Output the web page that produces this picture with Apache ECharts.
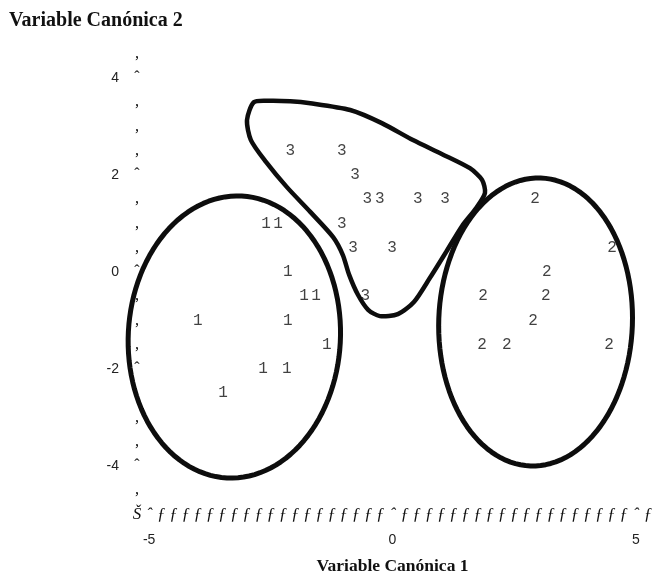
<!DOCTYPE html>
<html>
<head>
<meta charset="utf-8">
<script src="https://cdn.jsdelivr.net/npm/echarts@6/dist/echarts.min.js"></script>
<style>
  html, body { margin: 0; padding: 0; background: #fff; }
  #chart { width: 663px; height: 576px; }
</style>
</head>
<body>
<div id="chart"></div>
<script>
// Canonical scores of each observation, by group (printer-plot resolution)
const group1X = [-2.60, -2.35, -2.15, -1.82, -1.57, -4.00, -2.15, -1.35, -2.66, -2.17, -3.48];
const group1Y = [1.0, 1.0, 0.0, -0.5, -0.5, -1.0, -1.0, -1.5, -2.0, -2.0, -2.5];
const group2X = [2.93, 4.51, 3.17, 1.86, 3.15, 2.89, 1.84, 2.35, 4.45];
const group2Y = [1.5, 0.5, 0.0, -0.5, -0.5, -1.0, -1.5, -1.5, -1.5];
const group3X = [-2.10, -1.04, -0.77, -0.52, -0.26, 0.52, 1.08, -1.04, -0.81, -0.01, -0.56];
const group3Y = [2.5, 2.5, 2.0, 1.5, 1.5, 1.5, 1.5, 1.0, 0.5, 0.5, -0.5];

// Tick values
const xTickValues = [-5, 0, 5];
const yTickValues = [4, 2, 0, -2, -4];

// Hand-drawn group outlines: ellipses [cx, cy, rx, ry, tiltDeg] and a free contour
const groupEllipses = [
  [-3.25, -1.34, 2.18, 2.91, 3],
  [2.94, -1.03, 1.99, 2.97, 2]
];
const contourX = [-2.85, -2.55, -2.10, -1.69, -0.87, -0.22, 0.42, 1.02, 1.59, 1.84, 1.90, 1.72, 1.43, 1.10,
                  0.77, 0.44, 0.11, -0.26, -0.50, -0.71, -0.89, -1.02, -1.22, -1.69, -2.17, -2.60, -2.91, -2.99];
const contourY = [3.50, 3.53, 3.52, 3.48, 3.34, 3.07, 2.72, 2.43, 2.14, 1.90, 1.63, 1.32, 0.95, 0.41,
                  -0.12, -0.62, -0.87, -0.91, -0.78, -0.47, -0.06, 0.35, 0.72, 1.24, 1.75, 2.27, 2.72, 3.13];

const xMin = -5.25, xMax = 5.25, yMin = -5, yMax = 4.5;
const near = (a, b) => Math.abs(a - b) < 1e-6;

function pairs(xs, ys) { return xs.map((x, i) => [x, ys[i]]); }

function digitSeries(name, xs, ys) {
  return {
    type: 'scatter',
    name: name,
    data: pairs(xs, ys),
    symbol: 'circle',
    symbolSize: 1,
    itemStyle: { color: 'rgba(0,0,0,0)' },
    label: {
      show: true,
      position: 'inside',
      formatter: name,
      fontFamily: 'Liberation Mono',
      fontSize: 16,
      color: '#111'
    },
    emphasis: { disabled: true },
    silent: true,
    z: 5
  };
}

const penStroke = { fill: 'none', stroke: '#0d0d0d', lineWidth: 4.5, lineJoin: 'round' };

const chart = echarts.init(document.getElementById('chart'), null, { renderer: 'canvas' });

chart.setOption({
  animation: false,
  backgroundColor: '#fff',
  title: {
    text: 'Variable Canónica 2',
    left: 4,
    top: 6,
    textStyle: { fontFamily: 'Liberation Serif', fontWeight: 'bold', fontSize: 20, color: '#111' }
  },
  grid: { left: 137, right: 15, top: 53.75, bottom: 61.5, outerBoundsMode: 'none', containLabel: false },
  xAxis: [
    {
      type: 'value', min: xMin, max: xMax, interval: 0.25, position: 'bottom',
      axisLine: { show: false }, axisTick: { show: false }, splitLine: { show: false },
      axisLabel: {
        showMinLabel: true, showMaxLabel: true, margin: 26, verticalAlign: 'middle',
        fontFamily: 'Liberation Sans', fontSize: 14, color: '#222',
        formatter: v => xTickValues.some(t => near(t, v)) ? String(v) : ''
      },
      name: 'Variable Canónica 1', nameLocation: 'middle', nameGap: 52,
      nameTextStyle: { fontFamily: 'Liberation Serif', fontWeight: 'bold', fontSize: 17.5, color: '#111', verticalAlign: 'middle' }
    },
    {
      // printer-style horizontal axis drawn with the listing's characters
      type: 'value', min: xMin, max: xMax, interval: 0.25, position: 'bottom', offset: 0,
      axisLine: { show: false }, axisTick: { show: false }, splitLine: { show: false },
      axisLabel: {
        showMinLabel: true, showMaxLabel: true, margin: 0, verticalAlign: 'middle', align: 'center',
        fontFamily: 'Liberation Serif', fontStyle: 'italic', fontSize: 17, color: '#111',
        formatter: v => near(v, xMin) ? 'Š' : (xTickValues.some(t => near(t, v)) ? 'ˆ' : 'ƒ')
      }
    }
  ],
  yAxis: [
    {
      type: 'value', min: yMin, max: yMax, interval: 0.5, position: 'left',
      axisLine: { show: false }, axisTick: { show: false }, splitLine: { show: false },
      axisLabel: {
        showMinLabel: true, showMaxLabel: true, margin: 18, verticalAlign: 'middle',
        fontFamily: 'Liberation Sans', fontSize: 14, color: '#222',
        formatter: v => yTickValues.some(t => near(t, v)) ? String(v) : ''
      }
    },
    {
      // printer-style vertical axis
      type: 'value', min: yMin, max: yMax, interval: 0.5, position: 'left', offset: 0,
      axisLine: { show: false }, axisTick: { show: false }, splitLine: { show: false },
      axisLabel: {
        showMinLabel: true, showMaxLabel: true, margin: 0, verticalAlign: 'middle', align: 'center',
        fontFamily: 'Liberation Serif', fontSize: 16, color: '#111',
        formatter: v => near(v, yMin) ? '' : (yTickValues.some(t => near(t, v)) ? 'ˆ' : '‚')
      }
    }
  ],
  series: [
    digitSeries('1', group1X, group1Y),
    digitSeries('2', group2X, group2Y),
    digitSeries('3', group3X, group3Y),
    {
      type: 'custom',
      name: 'ellipses',
      data: groupEllipses,
      clip: false,
      silent: true,
      z: 3,
      renderItem: function (params, api) {
        const cx = api.value(0), cy = api.value(1), rx = api.value(2), ry = api.value(3);
        const th = api.value(4) * Math.PI / 180;
        const pts = [];
        for (let k = 0; k < 120; k++) {
          const t = k / 120 * Math.PI * 2;
          const x = cx + rx * Math.cos(t) * Math.cos(th) + ry * Math.sin(t) * Math.sin(th);
          const y = cy - rx * Math.cos(t) * Math.sin(th) + ry * Math.sin(t) * Math.cos(th);
          pts.push(api.coord([x, y]));
        }
        return { type: 'polygon', shape: { points: pts }, style: Object.assign({}, penStroke, { lineWidth: 5 }) };
      }
    },
    {
      type: 'custom',
      name: 'contour',
      data: [[contourX[0], contourY[0]]],
      clip: false,
      silent: true,
      z: 3,
      renderItem: function (params, api) {
        const pts = contourX.map((x, i) => api.coord([x, contourY[i]]));
        return { type: 'polygon', shape: { points: pts, smooth: 0.25 }, style: penStroke };
      }
    }
  ]
});
</script>
</body>
</html>
